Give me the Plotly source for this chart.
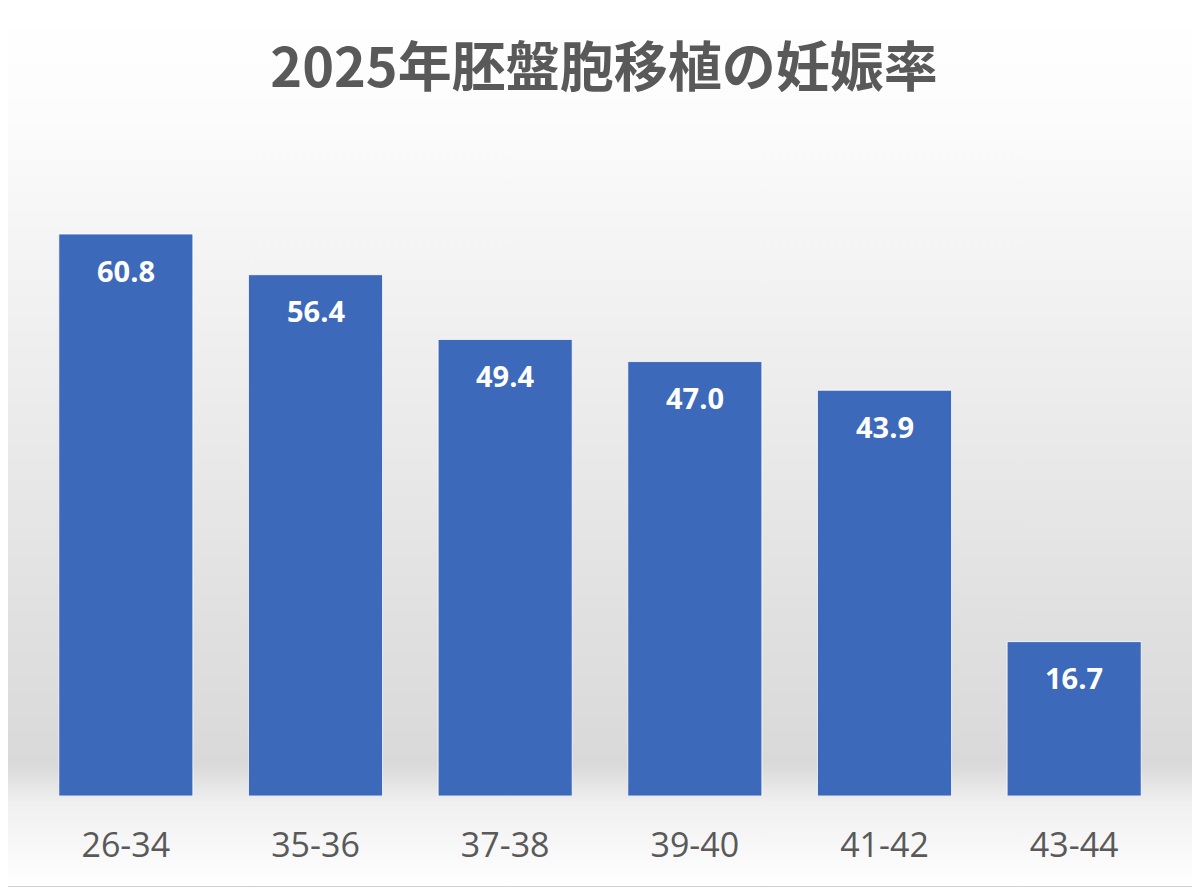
import base64
import plotly.graph_objects as go

categories = ["26-34", "35-36", "37-38", "39-40", "41-42", "43-44"]
rates = [60.8, 56.4, 49.4, 47.0, 43.9, 16.7]
title_text = "2025年胚盤胞移植の妊娠率"

W, H = 1192, 879
L, R, T, B = 23, 31, 141, 91
PW, PH = W - L - R, H - T - B

# background gradient (white top -> light gray -> white bottom)
svg = f"""<svg xmlns='http://www.w3.org/2000/svg' width='{W}' height='{H}' preserveAspectRatio='none'>
<defs><linearGradient id='g' x1='0' y1='0' x2='0' y2='1'>
<stop offset='0' stop-color='#ffffff'/>
<stop offset='0.12' stop-color='#fcfcfc'/>
<stop offset='0.40' stop-color='#eeeeee'/>
<stop offset='0.70' stop-color='#e0e0e0'/>
<stop offset='0.86' stop-color='#d9d9d9'/>
<stop offset='0.905' stop-color='#f0f0f0'/>
<stop offset='1' stop-color='#ffffff'/>
</linearGradient></defs>
<rect width='{W}' height='{H}' fill='url(#g)'/>
</svg>"""
bg_uri = "data:image/svg+xml;base64," + base64.b64encode(svg.encode()).decode()

fig = go.Figure()
fig.add_trace(go.Bar(
    x=categories, y=rates,
    marker=dict(color="#3C69B9", line=dict(color="rgba(255,255,255,0.8)", width=1)),
    hoverinfo="x+y",
))

for c, v in zip(categories, rates):
    fig.add_annotation(x=c, y=v, text=f"<b>{v:.1f}</b>", showarrow=False,
                       yshift=-36, font=dict(family="Open Sans, Noto Sans", size=29, color="#ffffff"))

px = lambda p: p / PW
py = lambda p: p / PH

fig.update_layout(
    width=W, height=H,
    margin=dict(l=L, r=R, t=T, b=B),
    paper_bgcolor="#ffffff", plot_bgcolor="rgba(0,0,0,0)",
    bargap=0.293,
    showlegend=False,
    title=dict(text=f"<b>{title_text}</b>", x=0.5, xanchor="center", y=1 - 60 / H, yanchor="middle",
               font=dict(family="Noto Sans CJK JP", size=54, color="#595959")),
    xaxis=dict(showgrid=False, showline=False, zeroline=False,
               tickfont=dict(family="Open Sans, Noto Sans", size=34, color="#595959"),
               ticks="", ticklabelstandoff=26),
    yaxis=dict(range=[0, 70], visible=False, showgrid=False, zeroline=False),
    images=[dict(source=bg_uri, xref="paper", yref="paper", x=px(-L), y=1 + py(T),
                 sizex=px(W), sizey=py(H), sizing="stretch", layer="below",
                 xanchor="left", yanchor="top")],
    shapes=[
        dict(type="line", xref="paper", yref="paper", x0=px(PW + R - 0.5), x1=px(PW + R - 0.5),
             y0=py(-B), y1=1 + py(T), line=dict(color="#d0d0d0", width=1), layer="above"),
        dict(type="line", xref="paper", yref="paper", x0=px(-L), x1=px(PW + R),
             y0=py(-B + 0.5), y1=py(-B + 0.5), line=dict(color="#d0d0d0", width=1), layer="above"),
    ],
)

fig.write_html("out.html")
